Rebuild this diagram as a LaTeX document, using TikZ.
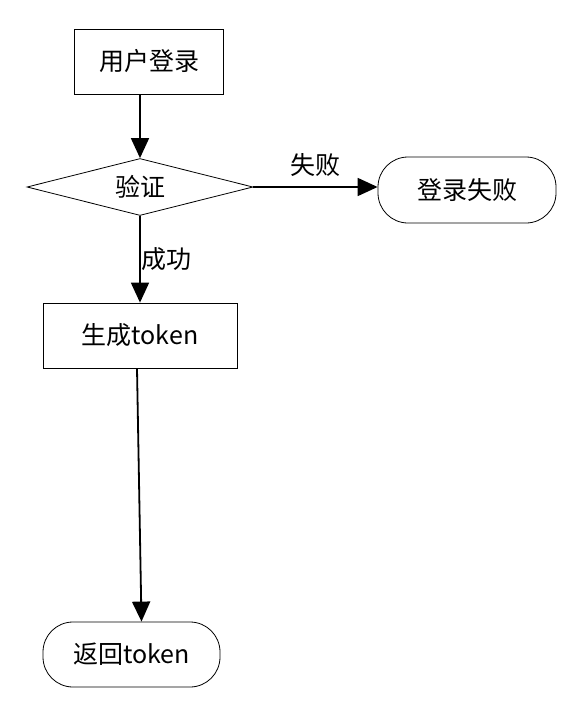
\documentclass[tikz,border=0pt]{standalone}
\usepackage{fontspec}
\setmainfont{Noto Sans CJK SC}
\usetikzlibrary{shapes.geometric,arrows.meta}

\begin{document}
\begin{tikzpicture}[x = 1pt, y = -1pt,
  box/.style = {draw, thick, inner sep = 0pt},
  endbox/.style = {draw, thick, rounded corners = 30pt, inner sep = 0pt},
  flow/.style = {line width = 1.8pt, -{Triangle[length = 20pt, width = 18pt]}},
  every node/.style = {font = \fontsize{25}{29}\selectfont}]
\useasboundingbox (0, 0) rectangle (588, 715);
\node[box, minimum width = 149pt, minimum height = 65pt] (login) at (149, 61.5) {用户登录};
\node[box, diamond, aspect = 3.96, minimum width = 226pt, minimum height = 57pt] (verify) at (140, 187) {验证};
\node[endbox, minimum width = 178pt, minimum height = 66pt] (fail) at (467, 190) {登录失败};
\node[box, minimum width = 194pt, minimum height = 65pt] (gen) at (140, 335.5) {生成token};
\node[endbox, minimum width = 177pt, minimum height = 65pt] (ret) at (131.5, 654.5) {返回token};
\draw[flow] (verify.north |- login.south) -- (verify.north);
\draw[flow] (verify.east) -- node[above = 6pt] {失败} (verify.east -| fail.west);
\draw[flow] (verify.south) -- node[right, inner sep = 1pt] {成功} (gen.north);
\draw[flow] ([xshift = -3pt]gen.south) -- ([xshift = 10pt]ret.north);
\end{tikzpicture}
\end{document}
